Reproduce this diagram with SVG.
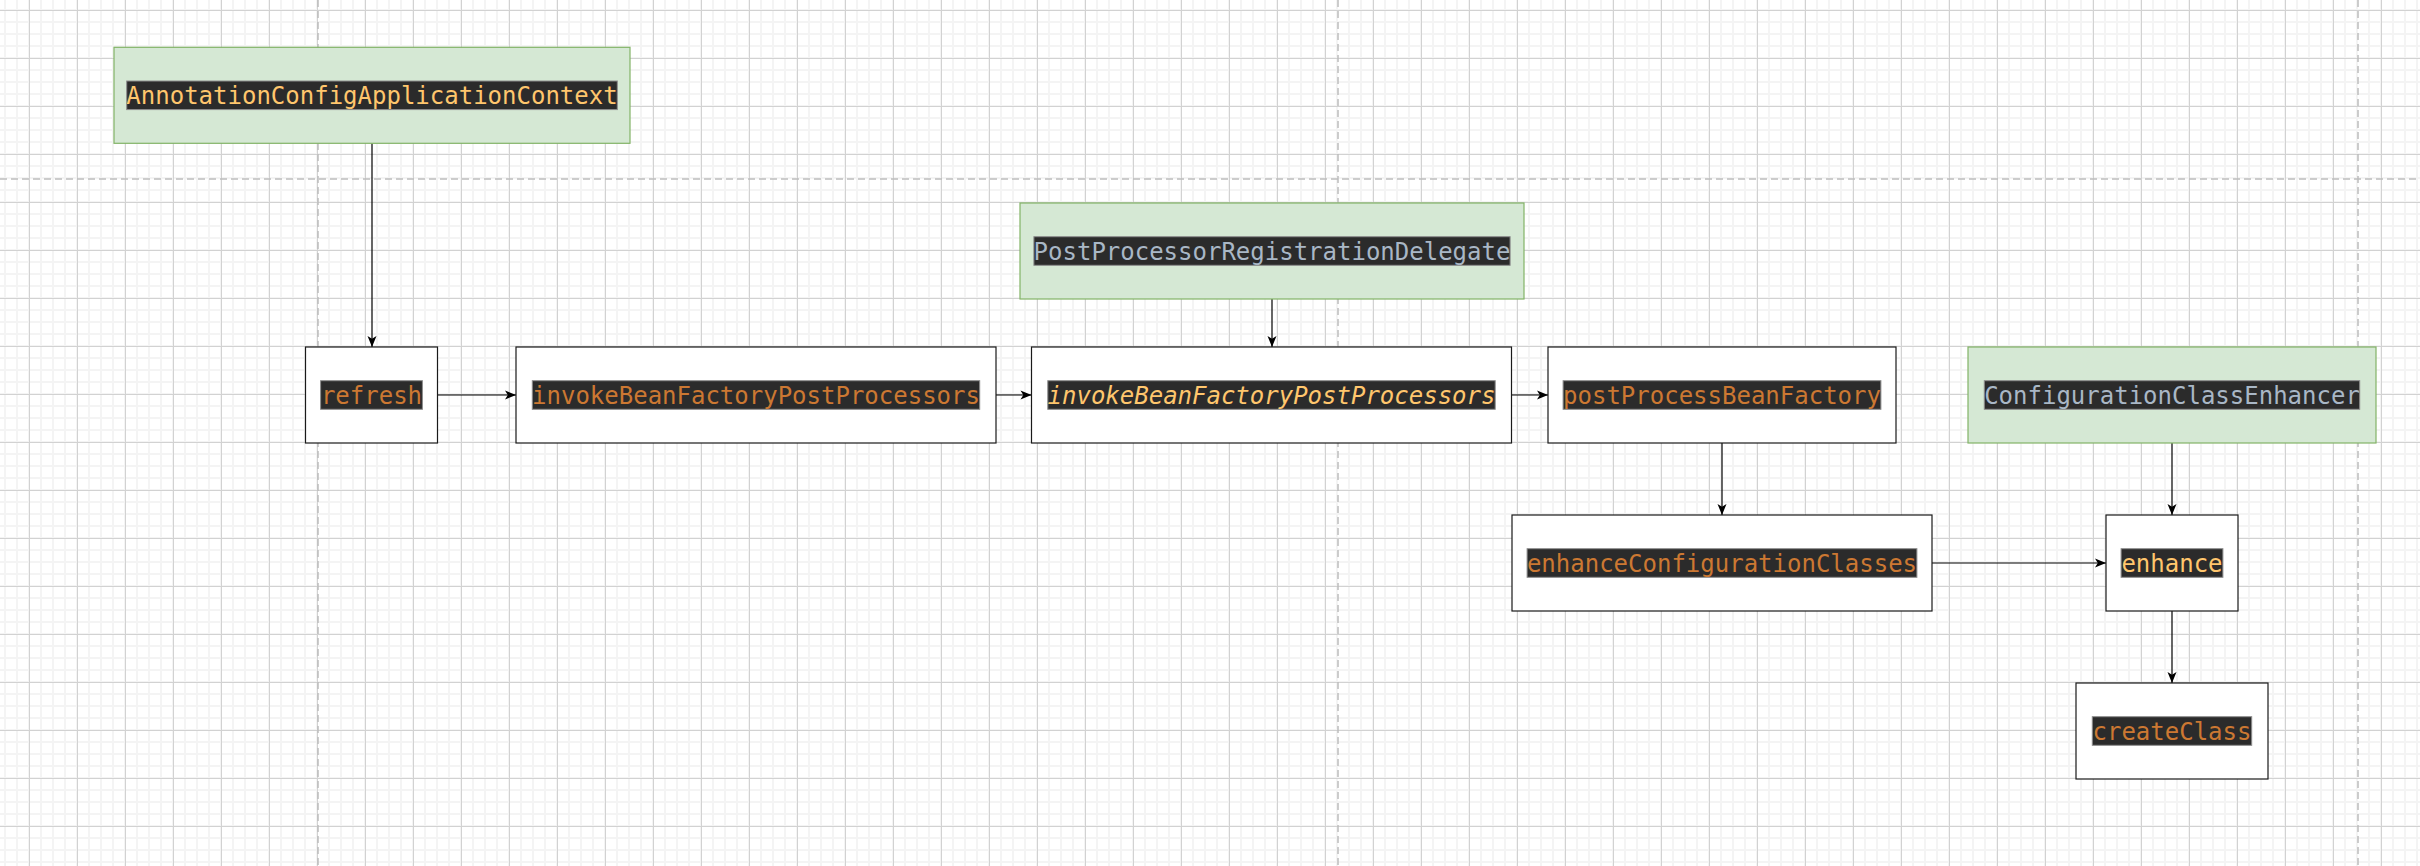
<svg xmlns="http://www.w3.org/2000/svg" width="2420" height="866" viewBox="0 0 2420 866">
<defs>
<pattern id="grid" patternUnits="userSpaceOnUse" x="23" y="4" width="48" height="48">
<path d="M6,0V48M18,0V48M30,0V48M42,0V48M0,6H48M0,18H48M0,30H48M0,42H48" stroke="#f4f4f4" stroke-width="2" fill="none"/>
<path d="M6.5,0V48M0,6.5H48" stroke="#d2d2d2" stroke-width="1" fill="none"/>
</pattern>
<marker id="arr" markerUnits="userSpaceOnUse" markerWidth="13" markerHeight="11" viewBox="0 0 13 11" refX="12" refY="5.5" orient="auto">
<path d="M1,1 L12,5.5 L1,10 L3.8,5.5 Z" fill="#000"/>
</marker>
</defs>
<style>
.green{fill:#d5e8d4;stroke:#82b366;stroke-width:1.2}
.white{fill:#ffffff;stroke:#1a1a1a;stroke-width:1.2}
.hl{fill:#2b2b2b;stroke:#8c8c8c;stroke-width:1}
.t{font-family:"DejaVu Sans Mono","Liberation Mono",monospace;font-size:24px;text-anchor:middle}
.y{fill:#ffc66d}
.o{fill:#cc7832}
.g{fill:#a9b7c6}
.i{font-style:italic}
.page{stroke:#bdbdbd;stroke-width:1.5;stroke-dasharray:7 4;fill:none}
.edge{stroke:#000;stroke-width:1.2;fill:none;marker-end:url(#arr)}
</style>
<rect width="2420" height="866" fill="#ffffff"/>
<rect width="2420" height="866" fill="url(#grid)"/>
<g id="page-breaks">
<path class="page" d="M318,0V866M1338,0V866M2358,0V866M0,179H2420"/>
</g>
<g id="connectors">
<path class="edge" d="M372,143.3V347"/>
<path class="edge" d="M437.5,395H516"/>
<path class="edge" d="M996,395H1031.5"/>
<path class="edge" d="M1272,299V347"/>
<path class="edge" d="M1511.5,395H1548"/>
<path class="edge" d="M1722,443V515"/>
<path class="edge" d="M1932,563H2106"/>
<path class="edge" d="M2172,443V515"/>
<path class="edge" d="M2172,611V683"/>
</g>
<g id="node-annotationConfigApplicationContext">
<rect class="green" x="114" y="47.3" width="516" height="96"/>
<rect class="hl" x="126.7" y="81" width="490.6" height="28.6"/>
<text class="t y" x="372" y="103.8">AnnotationConfigApplicationContext</text>
</g>
<g id="node-refresh">
<rect class="white" x="305.5" y="347" width="132" height="96"/>
<rect class="hl" x="320.6" y="380.7" width="101.8" height="28.6"/>
<text class="t o" x="371.5" y="403.5">refresh</text>
</g>
<g id="node-invokeBeanFactoryPostProcessors-1">
<rect class="white" x="516" y="347" width="480" height="96"/>
<rect class="hl" x="532.3" y="380.7" width="447.4" height="28.6"/>
<text class="t o" x="756" y="403.5">invokeBeanFactoryPostProcessors</text>
</g>
<g id="node-postProcessorRegistrationDelegate">
<rect class="green" x="1020" y="203" width="504" height="96"/>
<rect class="hl" x="1033.9" y="236.7" width="476.2" height="28.6"/>
<text class="t g" x="1272" y="259.5">PostProcessorRegistrationDelegate</text>
</g>
<g id="node-invokeBeanFactoryPostProcessors-2">
<rect class="white" x="1031.5" y="347" width="480" height="96"/>
<rect class="hl" x="1047.8" y="380.7" width="447.4" height="28.6"/>
<text class="t y i" x="1271.5" y="403.5">invokeBeanFactoryPostProcessors</text>
</g>
<g id="node-postProcessBeanFactory">
<rect class="white" x="1548" y="347" width="348" height="96"/>
<rect class="hl" x="1563.1" y="380.7" width="317.8" height="28.6"/>
<text class="t o" x="1722" y="403.5">postProcessBeanFactory</text>
</g>
<g id="node-enhanceConfigurationClasses">
<rect class="white" x="1512" y="515" width="420" height="96"/>
<rect class="hl" x="1527.1" y="548.7" width="389.8" height="28.6"/>
<text class="t o" x="1722" y="571.5">enhanceConfigurationClasses</text>
</g>
<g id="node-configurationClassEnhancer">
<rect class="green" x="1968" y="347" width="408" height="96"/>
<rect class="hl" x="1984.3" y="380.7" width="375.4" height="28.6"/>
<text class="t g" x="2172" y="403.5">ConfigurationClassEnhancer</text>
</g>
<g id="node-enhance">
<rect class="white" x="2106" y="515" width="132" height="96"/>
<rect class="hl" x="2121.1" y="548.7" width="101.8" height="28.6"/>
<text class="t y" x="2172" y="571.5">enhance</text>
</g>
<g id="node-createClass">
<rect class="white" x="2076" y="683" width="192" height="96"/>
<rect class="hl" x="2092.3" y="716.7" width="159.4" height="28.6"/>
<text class="t o" x="2172" y="739.5">createClass</text>
</g>
</svg>
